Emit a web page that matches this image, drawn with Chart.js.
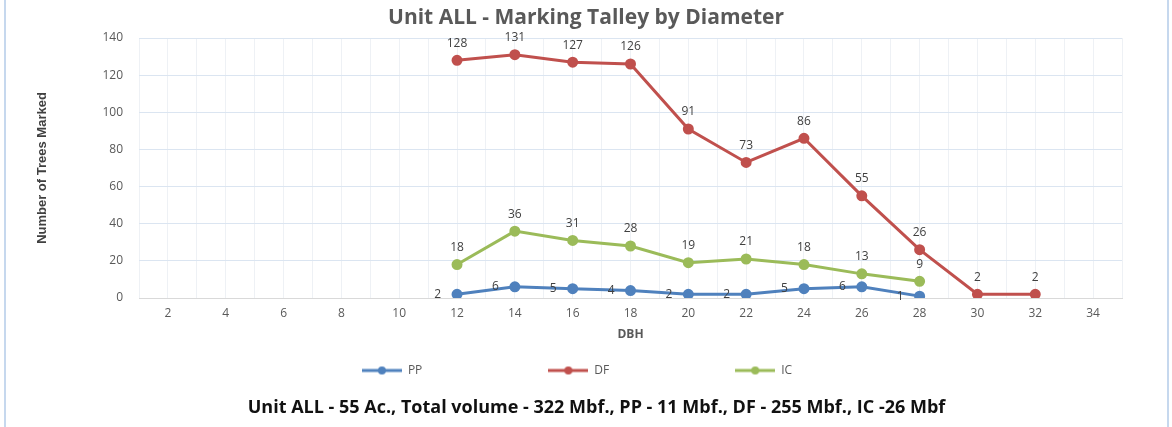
<!DOCTYPE html>
<html>
<head>
<meta charset="utf-8">
<title>Unit ALL - Marking Talley by Diameter</title>
<script src="https://cdn.jsdelivr.net/npm/chart.js@4.4.1/dist/chart.umd.min.js"></script>
<style>
  html, body { margin: 0; padding: 0; background: #fff; }
  #wrap { width: 1172px; height: 427px; position: relative; }
</style>
</head>
<body>
<div id="wrap"><canvas id="talleyChart" width="1172" height="427"></canvas></div>
<script>
// DBH classes (inches) and number of trees marked per species
const dbhClasses = [12, 14, 16, 18, 20, 22, 24, 26, 28, 30, 32];
const ppCounts = [2, 6, 5, 4, 2, 2, 5, 6, 1];
const dfCounts = [128, 131, 127, 126, 91, 73, 86, 55, 26, 2, 2];
const icCounts = [18, 36, 31, 28, 19, 21, 18, 13, 9];
const seriesNames = ["PP", "DF", "IC"];
const seriesColors = ["#4f81bd", "#c0504d", "#9bbb59"];
const xTickLabels = [2, 4, 6, 8, 10, 12, 14, 16, 18, 20, 22, 24, 26, 28, 30, 32, 34];
const yTickLabels = [0, 20, 40, 60, 80, 100, 120, 140];

Chart.defaults.font.family = "'Open Sans', sans-serif";

// pair each count with its DBH class
function toPoints(counts) {
    return counts.map(function (c, i) { return { x: dbhClasses[i], y: c }; });
}

// little line-with-dot marker for the legend
function legendMarker(color) {
    const c = document.createElement("canvas");
    c.width = 40;
    c.height = 10;
    const g = c.getContext("2d");
    g.strokeStyle = color;
    g.lineWidth = 3;
    g.beginPath();
    g.moveTo(0, 5);
    g.lineTo(40, 5);
    g.stroke();
    g.fillStyle = color;
    g.beginPath();
    g.arc(20, 5, 4, 0, Math.PI * 2);
    g.fill();
    return c;
}

// white background plus the thin blue frame lines at the sides
const framePlugin = {
    id: "frame",
    beforeDraw(chart) {
        const ctx = chart.ctx;
        ctx.save();
        ctx.fillStyle = "#ffffff";
        ctx.fillRect(0, 0, chart.width, chart.height);
        ctx.strokeStyle = "#c6d8ee";
        ctx.lineWidth = 2;
        ctx.beginPath();
        ctx.moveTo(5, 0);
        ctx.lineTo(5, chart.height);
        ctx.moveTo(chart.width - 4, 0);
        ctx.lineTo(chart.width - 4, chart.height);
        ctx.stroke();
        ctx.restore();
    }
};

// value labels next to every point
const pointLabels = {
    id: "pointLabels",
    afterDatasetsDraw(chart) {
        const ctx = chart.ctx;
        ctx.save();
        ctx.font = "12px 'Open Sans', sans-serif";
        ctx.fillStyle = "#404040";
        ctx.textBaseline = "middle";
        chart.data.datasets.forEach(function (ds, di) {
            const meta = chart.getDatasetMeta(di);
            meta.data.forEach(function (pt, i) {
                const v = ds.data[i].y;
                if (ds.labelSide === "left") {
                    ctx.textAlign = "right";
                    ctx.fillText(v, pt.x - 16, pt.y);
                } else {
                    ctx.textAlign = "center";
                    ctx.fillText(v, pt.x, pt.y - 17);
                }
            });
        });
        ctx.restore();
    }
};

function makeDataset(i, counts, side) {
    return {
        label: seriesNames[i],
        data: toPoints(counts),
        borderColor: seriesColors[i],
        backgroundColor: seriesColors[i],
        pointBackgroundColor: seriesColors[i],
        pointBorderColor: seriesColors[i],
        borderWidth: 3,
        pointRadius: 4,
        tension: 0,
        fill: false,
        labelSide: side
    };
}

// extra spacing after each legend entry so they spread out like the original
const legendGaps = ["\u2003".repeat(9) + "\u2002\u2009", "\u2003".repeat(9) + "\u2002\u2009", "\u2003\u2002"];

const ctx = document.getElementById("talleyChart").getContext("2d");
new Chart(ctx, {
    type: "line",
    data: {
        datasets: [
            makeDataset(0, ppCounts, "left"),
            makeDataset(1, dfCounts, "top"),
            makeDataset(2, icCounts, "top")
        ]
    },
    options: {
        responsive: false,
        animation: false,
        layout: { padding: 0 },
        plugins: {
            title: {
                display: true,
                text: "Unit ALL - Marking Talley by Diameter",
                color: "#595959",
                font: { size: 21, weight: "bold" },
                padding: { top: 5.4, bottom: 7.4 }
            },
            subtitle: {
                display: true,
                position: "bottom",
                // leading space nudges the line a little right of centre, as in the original
                text: "\u2003\u2009Unit ALL - 55 Ac., Total volume - 322 Mbf., PP - 11 Mbf., DF - 255 Mbf., IC -26 Mbf",
                color: "#111111",
                font: { size: 18, weight: "bold" },
                padding: { top: 10.7, bottom: 8.2 }
            },
            legend: {
                position: "bottom",
                labels: {
                    usePointStyle: true,
                    pointStyleWidth: 40,
                    color: "#595959",
                    font: { size: 12 },
                    padding: 10,
                    generateLabels: function (chart) {
                        const items = Chart.defaults.plugins.legend.labels.generateLabels(chart);
                        items.forEach(function (item, i) {
                            item.pointStyle = legendMarker(seriesColors[i]);
                            item.text = item.text + legendGaps[i];
                        });
                        return items;
                    }
                }
            },
            tooltip: { enabled: false }
        },
        scales: {
            x: {
                type: "linear",
                min: 1,
                max: 35,
                grid: { color: "#eef1f5", drawTicks: false },
                border: { color: "#d9d9d9" },
                ticks: {
                    stepSize: 1,
                    autoSkip: false,
                    maxRotation: 0,
                    padding: 8,
                    color: "#595959",
                    font: { size: 12 },
                    callback: function (v) { return xTickLabels.includes(v) ? v : ""; }
                },
                title: {
                    display: true,
                    text: "DBH",
                    color: "#595959",
                    font: { size: 12, weight: "bold" },
                    padding: { top: 6.6, bottom: 12.3 }
                },
                afterFit: function (scale) { scale.height = 56.5; }
            },
            y: {
                min: 0,
                max: 140,
                grid: { color: "#dbe5f1", drawTicks: false },
                border: { display: false },
                ticks: {
                    stepSize: 20,
                    padding: 16,
                    color: "#595959",
                    font: { size: 12 },
                    callback: function (v) { return yTickLabels.includes(v) ? v : ""; }
                },
                title: {
                    display: true,
                    text: "Number of Trees Marked",
                    color: "#404040",
                    font: { family: "'Liberation Sans Narrow', 'Arial Narrow', sans-serif", size: 13, weight: "bold" },
                    padding: { top: 35, bottom: 0 }
                },
                afterFit: function (scale) { scale.width = 139; }
            },
            y2: {
                type: "linear",
                position: "right",
                grid: { display: false, drawOnChartArea: false },
                border: { display: false },
                ticks: { display: false },
                afterFit: function (scale) { scale.width = 50; }
            }
        }
    },
    plugins: [framePlugin, pointLabels]
});
</script>
</body>
</html>
